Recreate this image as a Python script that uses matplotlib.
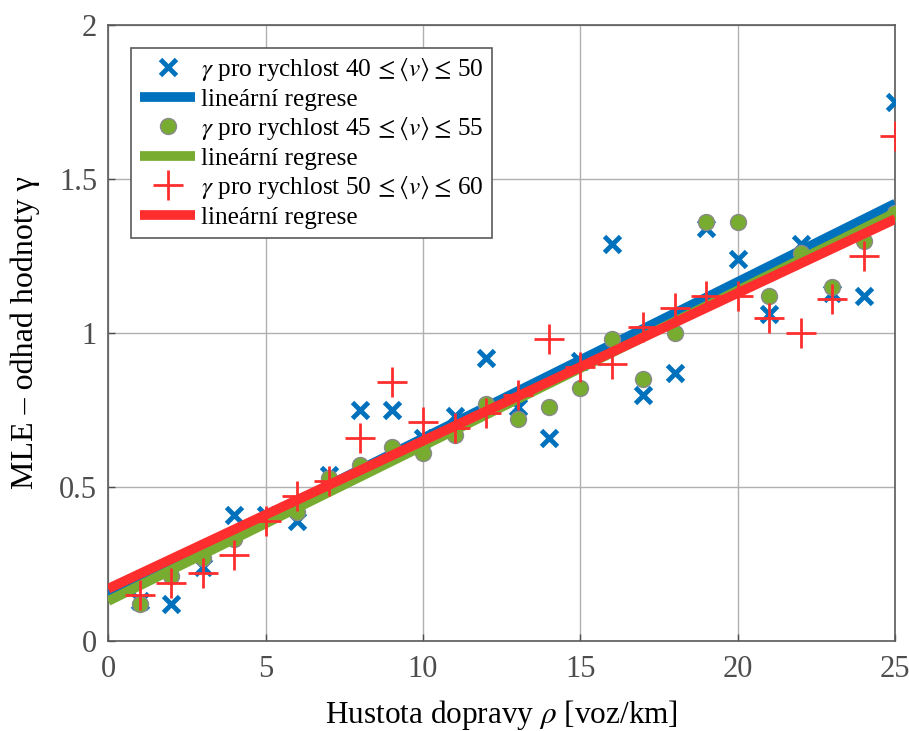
"""Odhad MLE parametru gamma v zavislosti na hustote dopravy."""

import matplotlib

matplotlib.use("Agg")
import matplotlib.pyplot as plt

# ── Data ─────────────────────────────────────────────────────────────────────

HUSTOTA = list(range(1, 26))

GAMMA_40_50 = [0.13, 0.12, 0.24, 0.41, 0.41, 0.39, 0.54, 0.75, 0.75, 0.66,
               0.73, 0.92, 0.76, 0.66, 0.91, 1.29, 0.80, 0.87, 1.34, 1.24,
               1.06, 1.29, 1.13, 1.12, 1.75]
GAMMA_45_55 = [0.12, 0.21, 0.27, 0.33, 0.40, 0.42, 0.53, 0.57, 0.63, 0.61,
               0.67, 0.77, 0.72, 0.76, 0.82, 0.98, 0.85, 1.00, 1.36, 1.36,
               1.12, 1.26, 1.15, 1.30, 1.39]
GAMMA_50_60 = [0.15, 0.19, 0.22, 0.28, 0.39, 0.47, 0.52, 0.66, 0.84, 0.71,
               0.69, 0.74, 0.80, 0.98, 0.89, 0.90, 1.02, 1.08, 1.12, 1.12,
               1.05, 1.00, 1.11, 1.25, 1.64]

# koncove body regresnich primek
REGRESE_X = [0, 25]
REGRESE_40_50 = [0.15, 1.42]
REGRESE_45_55 = [0.13, 1.39]
REGRESE_50_60 = [0.17, 1.37]

X_TICKS = [0, 5, 10, 15, 20, 25]
Y_TICKS = [0, 0.5, 1, 1.5, 2]
Y_TICK_LABELS = ["0", "0.5", "1", "1.5", "2"]

# ── Styl ─────────────────────────────────────────────────────────────────────

MODRA = "#0072BD"
ZELENA = "#77AC30"
CERVENA = "#FF2E2E"
SEDA = "#4d4d4d"

plt.rcParams["font.family"] = ["Liberation Serif", "DejaVu Serif"]
plt.rcParams["mathtext.fontset"] = "stix"


def main() -> None:
    figura = plt.figure(figsize=(9.09, 7.31), dpi=100)
    osa = figura.add_axes((0.119, 0.123, 0.866, 0.843))

    osa.plot(HUSTOTA, GAMMA_40_50, linestyle="none", marker="x", markersize=12,
             markeredgewidth=3.5, color=MODRA, zorder=3,
             label=r"$\gamma$ pro rychlost 40$\,\leq\langle v\rangle\leq\,$50")
    osa.plot(REGRESE_X, REGRESE_40_50, color=MODRA, linewidth=7,
             solid_capstyle="butt", zorder=4, label="lineární regrese")
    osa.plot(HUSTOTA, GAMMA_45_55, linestyle="none", marker="o", markersize=11.5,
             markerfacecolor=ZELENA, markeredgecolor="#8a8a8a", markeredgewidth=1,
             zorder=5,
             label=r"$\gamma$ pro rychlost 45$\,\leq\langle v\rangle\leq\,$55")
    osa.plot(REGRESE_X, REGRESE_45_55, color=ZELENA, linewidth=7,
             solid_capstyle="butt", zorder=6, label="lineární regrese")
    osa.plot(HUSTOTA, GAMMA_50_60, linestyle="none", marker="+", markersize=21,
             markeredgewidth=2, color=CERVENA, zorder=7,
             label=r"$\gamma$ pro rychlost 50$\,\leq\langle v\rangle\leq\,$60")
    osa.plot(REGRESE_X, REGRESE_50_60, color=CERVENA, linewidth=7,
             solid_capstyle="butt", zorder=8, label="lineární regrese")

    osa.set_xlim(0, 25)
    osa.set_ylim(0, 2)
    osa.set_xticks(X_TICKS)
    osa.set_yticks(Y_TICKS)
    osa.set_yticklabels(Y_TICK_LABELS)
    osa.tick_params(direction="in", length=5, width=1, colors=SEDA,
                    labelsize=22)
    osa.tick_params(axis="x", pad=10)
    osa.tick_params(axis="y", pad=8)
    osa.grid(True, color="#b0b0b0", linewidth=1)
    osa.set_axisbelow(True)
    for strana in osa.spines.values():
        strana.set_color("#5a5a5a")
        strana.set_linewidth(1.2)

    osa.set_xlabel(r"Hustota dopravy $\rho$ [voz/km]", fontsize=22.5)
    osa.xaxis.set_label_coords(0.5, -0.093)
    osa.set_ylabel("MLE – odhad hodnoty γ", fontsize=23)
    osa.yaxis.set_label_coords(-0.086, 0.5)

    legenda = osa.legend(loc="upper left", bbox_to_anchor=(0.029, 0.963),
                         borderaxespad=0, fontsize=18.2, handlelength=2.2,
                         handletextpad=0.2, labelspacing=0.2,
                         fancybox=False, framealpha=1, edgecolor="#5a5a5a",
                         borderpad=0.35)
    legenda.get_frame().set_linewidth(1.2)

    figura.savefig("out.png", dpi=100)
    plt.close(figura)


if __name__ == "__main__":
    main()
